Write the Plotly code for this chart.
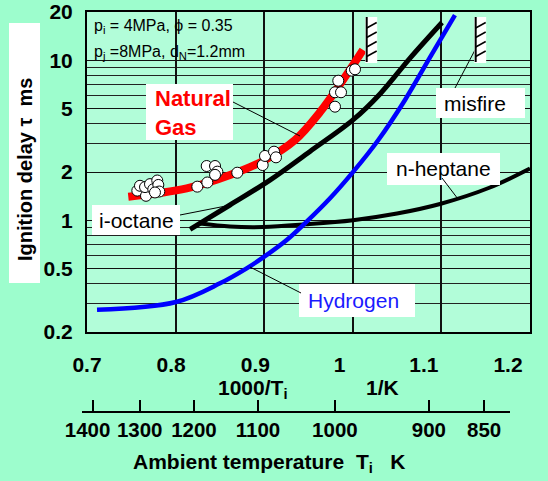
import plotly.graph_objects as go

W, H = 548, 481
FONT = "Liberation Sans, Arial, sans-serif"

# ---- data: x = 1000/T_i (1/K), y = ignition delay (ms) ----
ng_curve_x = [0.7466, 0.8125, 0.8614, 0.9009, 0.9348, 0.9630, 0.9889, 1.0115]
ng_curve_y = [1.40, 1.58, 1.915, 2.38, 3.17, 4.74, 7.52, 11.6]

ng_meas_x = [0.7568, 0.7598, 0.7666, 0.7655, 0.7711, 0.7748, 0.7793, 0.7805, 0.7816, 0.7767,
             0.8245, 0.8358, 0.8351, 0.8445, 0.8471, 0.8445, 0.8696, 0.8983, 0.9009, 0.9111,
             0.9133, 0.9799, 0.9799, 0.9867, 0.9836, 0.9988, 1.0025]
ng_meas_y = [1.53, 1.64, 1.42, 1.61, 1.68, 1.56, 1.77, 1.66, 1.51, 1.49,
             1.62, 1.72, 2.18, 2.18, 2.01, 1.92, 1.98, 2.21, 2.52, 2.68,
             2.47, 5.12, 6.3, 6.3, 7.44, 8.6, 8.77]

iso_x = [0.8163, 0.8614, 0.9065, 0.9517, 1.0002, 1.0307, 1.0646, 1.1007]
iso_y = [0.877, 1.244, 1.78, 2.69, 4.23, 6.15, 10.3, 17.2]

hep_x = [0.8275, 0.8614, 0.8986, 0.9472, 1.0002, 1.0499, 1.0984, 1.1548, 1.2]
hep_y = [0.953, 0.913, 0.906, 0.942, 1.0, 1.10, 1.262, 1.60, 2.10]

h2_x = [0.7113, 0.8004, 0.8501, 0.8802, 0.9001, 0.9254, 0.9479, 0.9743, 1.0006, 1.0288,
        1.0589, 1.0871, 1.1153]
h2_y = [0.275, 0.308, 0.403, 0.50, 0.591, 0.751, 0.978, 1.37, 2.01, 3.17,
        5.64, 10.4, 19.1]

misfire_x = [1.014, 1.137]

x_ticks = [0.7, 0.8, 0.9, 1.0, 1.1, 1.2]
x_grid = [0.8, 0.9, 1.0, 1.1]
y_ticks = [0.2, 0.5, 1, 2, 5, 10, 20]
y_minor = [0.3, 0.4, 0.6, 0.7, 0.8, 0.9, 3, 4, 6, 7, 8, 9]
temp_ticks = [1400, 1300, 1200, 1100, 1000, 900, 850]

PAGE_BG = "#9dfdcd"
PLOT_BG = "#b2fdd9"


def fx(px):
    return px / W


def fy(py):
    return 1 - py / H


fig = go.Figure()

fig.add_trace(go.Scatter(x=ng_curve_x, y=ng_curve_y, mode="lines",
                         line=dict(color="#ff0000", width=8, shape="spline"),
                         hoverinfo="skip", showlegend=False))
fig.add_trace(go.Scatter(x=iso_x, y=iso_y, mode="lines",
                         line=dict(color="black", width=5, shape="spline"),
                         hoverinfo="skip", showlegend=False))
fig.add_trace(go.Scatter(x=hep_x, y=hep_y, mode="lines",
                         line=dict(color="black", width=4, shape="spline"),
                         hoverinfo="skip", showlegend=False))
fig.add_trace(go.Scatter(x=h2_x, y=h2_y, mode="lines",
                         line=dict(color="#0000ff", width=4.5, shape="spline"),
                         hoverinfo="skip", showlegend=False))
fig.add_trace(go.Scatter(x=ng_meas_x, y=ng_meas_y, mode="markers",
                         marker=dict(size=11, color="white", line=dict(color="black", width=1)),
                         hoverinfo="skip", showlegend=False))

# invisible traces that carry the two auxiliary scales
fig.add_trace(go.Scatter(x=[x_ticks[0], x_ticks[-1]], y=[0, 1], xaxis="x2", yaxis="y2",
                         mode="markers", marker=dict(opacity=0), hoverinfo="skip", showlegend=False))
temp_vals = [1000.0 / t for t in temp_ticks]
fig.add_trace(go.Scatter(x=[temp_vals[0], temp_vals[-1]], y=[0, 1], xaxis="x3", yaxis="y3",
                         mode="markers", marker=dict(opacity=0), hoverinfo="skip", showlegend=False))

# the first temperature label is nudged left so it clears its neighbour
temp_text = [str(t) for t in temp_ticks]
temp_text[0] = temp_text[0] + "\u00a0\u00a0"

tick_font = dict(family=FONT, size=21, color="black", weight="bold")

fig.update_layout(
    width=W, height=H,
    margin=dict(l=0, r=0, t=0, b=0, autoexpand=False),
    paper_bgcolor=PAGE_BG,
    plot_bgcolor="rgba(0,0,0,0)",
    showlegend=False,
    xaxis=dict(domain=[fx(87), fx(530)], range=[0.7, 1.2], tickvals=x_grid,
               showticklabels=False, ticks="", showgrid=True, gridcolor="#111", gridwidth=1.5,
               zeroline=False, showline=True, mirror=True, linecolor="black", linewidth=2),
    yaxis=dict(domain=[fy(332), fy(12)], type="log", range=[-0.69897, 1.30103],
               tickvals=y_ticks, ticktext=[str(v) for v in y_ticks], tickfont=tick_font,
               ticks="", ticklabelstandoff=8, showgrid=True, gridcolor="#111", gridwidth=1,
               minor=dict(tickvals=y_minor, showgrid=True, gridcolor="#222", gridwidth=1, ticks=""),
               zeroline=False, showline=True, mirror=True, linecolor="black", linewidth=2),
    xaxis2=dict(domain=[fx(87), fx(508)], range=[0.7, 1.2], anchor="y2",
                tickvals=x_ticks, ticktext=["0.7", "0.8", "0.9", "1", "1.1", "1.2"],
                tickfont=tick_font, tickangle=0, ticks="", showgrid=False, zeroline=False,
                showline=False),
    yaxis2=dict(domain=[fy(350), fy(344)], range=[0, 1], visible=False),
    xaxis3=dict(domain=[fx(82), fx(510)], range=[0.701, 1.207], anchor="y3",
                tickvals=temp_vals, ticktext=temp_text,
                tickfont=dict(family=FONT, size=20.5, color="black", weight="bold"),
                tickangle=0, ticks="inside", ticklen=11, tickwidth=1.5, tickcolor="black",
                showgrid=False, zeroline=False, showline=True, linecolor="black", linewidth=1.5),
    yaxis3=dict(domain=[fy(411), fy(400)], range=[0, 1], visible=False),
)

shapes = []
# plotting area fill
shapes.append(dict(type="rect", xref="paper", yref="paper", x0=fx(87), x1=fx(530),
                   y0=fy(332), y1=fy(12), fillcolor=PLOT_BG, line=dict(width=0), layer="below"))


def white_box(x0, y0, x1, y1):
    shapes.append(dict(type="rect", xref="paper", yref="paper", x0=fx(x0), x1=fx(x1),
                       y0=fy(y1), y1=fy(y0), fillcolor="white", line=dict(width=0)))


def leader(x0, y0, x1, y1):
    shapes.append(dict(type="line", xref="paper", yref="paper", x0=fx(x0), y0=fy(y0),
                       x1=fx(x1), y1=fy(y1), line=dict(color="black", width=1)))


white_box(9, 23, 40, 283)        # y title
white_box(146, 84, 233, 140)     # Natural Gas
white_box(436, 88, 525, 118)     # misfire
white_box(387, 153, 500, 185)    # n-heptane
white_box(92, 205, 180, 235)     # i-octane
white_box(299, 284, 415, 317)    # Hydrogen

leader(233, 102, 300, 136)
leader(455, 88, 475, 50)
leader(442, 178, 458, 199)
leader(180, 215, 231, 205)
leader(250, 267, 301, 293)

# misfire limit markers: hatched white strips
for mx in misfire_x:
    shapes.append(dict(type="rect", xref="x", xsizemode="pixel", xanchor=mx, x0=0, x1=12,
                       yref="paper", y0=fy(63), y1=fy(17), fillcolor="white", line=dict(width=0)))
    shapes.append(dict(type="line", xref="x", xsizemode="pixel", xanchor=mx, x0=1.5, x1=1.5,
                       yref="paper", y0=fy(62), y1=fy(17), line=dict(color="black", width=2)))
    for hy in [28, 37.5, 47, 56.5]:
        shapes.append(dict(type="line", xref="x", xsizemode="pixel", xanchor=mx, x0=1.5, x1=11.5,
                           yref="paper", y0=fy(hy), y1=fy(hy - 5.5),
                           line=dict(color="black", width=1.5)))

fig.update_layout(shapes=shapes)

annotations = []


def label(text, x, y, size, color="black", bold=False, xanchor="center", angle=0, align="center"):
    annotations.append(dict(text=text, x=fx(x), y=fy(y), xref="paper", yref="paper",
                            xanchor=xanchor, yanchor="middle", showarrow=False, textangle=angle,
                            align=align,
                            font=dict(family=FONT, size=size, color=color,
                                      weight="bold" if bold else "normal")))


label("Ignition delay \u03c4\u00a0\u00a0ms", 25, 170, 20, bold=True, angle=-90)
label("Natural<br>Gas", 153, 113, 22, color="#ff0000", bold=True, xanchor="left", align="left")
label("misfire", 475, 103, 21)
label("n-heptane", 443, 169, 21)
label("i-octane", 136, 220, 21)
label("Hydrogen", 353, 300, 21, color="#1a1aff")
label("p<sub>i</sub> = 4MPa, \u03d5 = 0.35", 92, 26, 16, xanchor="left")
label("p<sub>j</sub> =8MPa, d<sub>N</sub>=1.2mm", 92, 52, 16, xanchor="left")
label("1000/T<sub>i</sub>", 252, 389, 21, bold=True)
label("1/K", 382, 387, 21, bold=True)
label("Ambient temperature\u00a0\u00a0T<sub>i</sub>\u00a0\u00a0\u00a0K", 269, 463, 21, bold=True)

fig.update_layout(annotations=annotations)

fig.write_html("out.html")
